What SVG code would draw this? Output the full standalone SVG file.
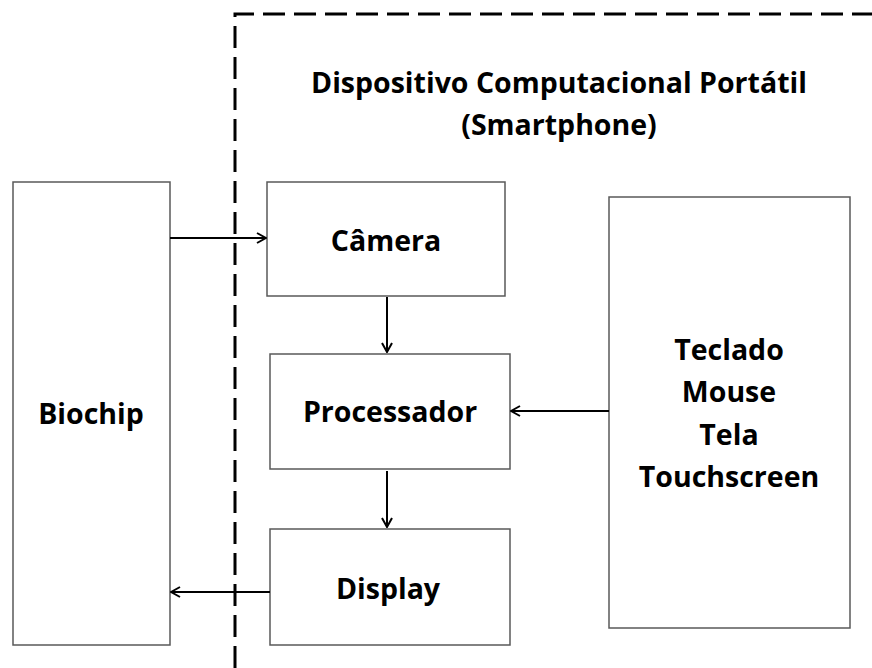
<svg xmlns="http://www.w3.org/2000/svg" width="872" height="668" viewBox="0 0 872 668">
<style>
.box{fill:#fff;stroke:#595959;stroke-width:1.5}
.lbl{font-family:"Open Sans","Noto Sans","DejaVu Sans",sans-serif;font-weight:bold;font-size:28.5px;fill:#000;text-anchor:middle}
.con{stroke:#000;stroke-width:2;fill:none}
</style>
<defs>
<marker id="arr" viewBox="0 0 12 12" refX="11" refY="6" markerWidth="12" markerHeight="12" markerUnits="userSpaceOnUse" orient="auto">
<path d="M2,1 L11,6 L2,11" fill="none" stroke="#000" stroke-width="2"/>
</marker>
</defs>
<rect width="872" height="668" fill="#fff"/>
<g id="container">
<path d="M235,668 L235,14 L872,14" fill="none" stroke="#000" stroke-width="3" stroke-dasharray="22,9"/>
<text class="lbl" x="559" y="93">Dispositivo Computacional Portátil</text>
<text class="lbl" x="559" y="135">(Smartphone)</text>
</g>
<g id="biochip">
<rect class="box" x="13" y="182" width="157" height="463"/>
<text class="lbl" x="91" y="424">Biochip</text>
</g>
<g id="camera">
<rect class="box" x="267" y="182" width="238" height="114"/>
<text class="lbl" x="386" y="251">Câmera</text>
</g>
<g id="processador">
<rect class="box" x="270" y="354" width="240" height="115"/>
<text class="lbl" x="390" y="422">Processador</text>
</g>
<g id="display">
<rect class="box" x="270" y="529" width="240" height="116"/>
<text class="lbl" x="388" y="599">Display</text>
</g>
<g id="entrada">
<rect class="box" x="609" y="197" width="241" height="431"/>
<text class="lbl" x="729" y="360">Teclado</text>
<text class="lbl" x="729" y="402">Mouse</text>
<text class="lbl" x="729" y="445">Tela</text>
<text class="lbl" x="729" y="487">Touchscreen</text>
</g>
<g id="connectors">
<line class="con" x1="170" y1="238" x2="266" y2="238" marker-end="url(#arr)"/>
<line class="con" x1="387" y1="297" x2="387" y2="352" marker-end="url(#arr)"/>
<line class="con" x1="387" y1="471" x2="387" y2="527" marker-end="url(#arr)"/>
<line class="con" x1="609" y1="411" x2="511" y2="411" marker-end="url(#arr)"/>
<line class="con" x1="270" y1="592" x2="171" y2="592" marker-end="url(#arr)"/>
</g>
</svg>
